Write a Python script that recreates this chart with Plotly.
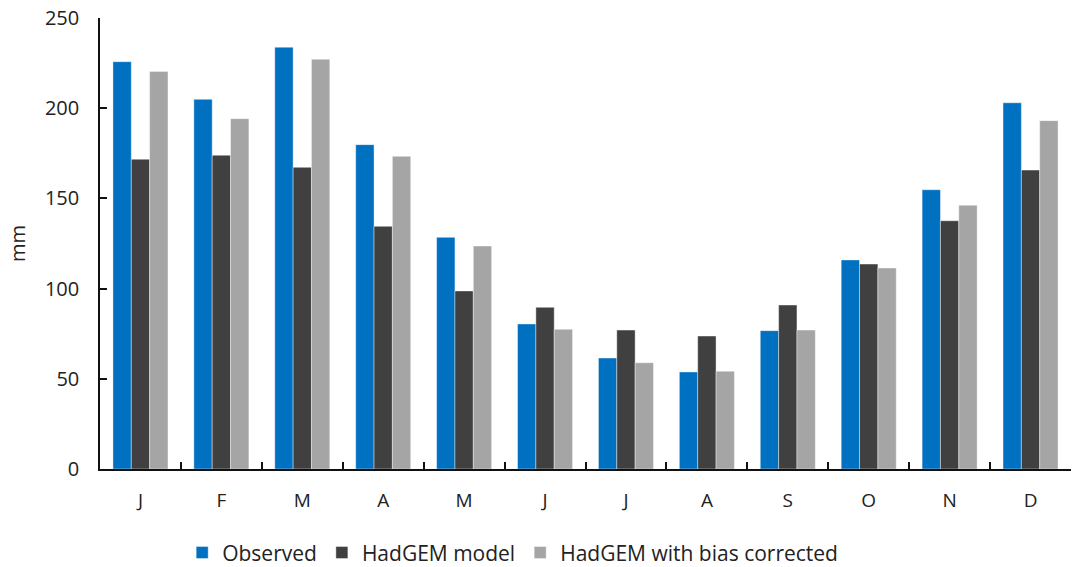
import plotly.graph_objects as go

months = ["J", "F", "M", "A", "M", "J", "J", "A", "S", "O", "N", "D"]
observed = [225.8, 204.9, 233.8, 179.8, 128.4, 80.4, 61.5, 53.8, 76.7, 115.9, 154.8, 203.0]
hadgem_model = [171.7, 173.9, 167.2, 134.5, 98.7, 89.6, 77.0, 73.7, 90.9, 113.6, 137.6, 165.7]
hadgem_corrected = [220.4, 194.2, 227.1, 173.3, 123.6, 77.4, 58.9, 54.2, 77.0, 111.4, 146.2, 193.1]
y_ticks = [0, 50, 100, 150, 200, 250]

x_idx = list(range(len(months)))

FONT = "Open Sans"
TXT = "#222222"
fig = go.Figure()
series = [
    ("Observed", observed, "#0070C0"),
    ("HadGEM model", hadgem_model, "#404040"),
    ("HadGEM with bias corrected", hadgem_corrected, "#A5A5A5"),
]
for name, vals, col in series:
    fig.add_trace(go.Bar(
        x=x_idx, y=vals, name=name,
        marker=dict(color=col, line=dict(color="rgba(255,255,255,0.5)", width=0.8)),
    ))

fig.update_layout(
    width=1072, height=567,
    margin=dict(l=100, r=1, t=18, b=98, autoexpand=False),
    paper_bgcolor="white", plot_bgcolor="white",
    barmode="group", bargap=0.32, bargroupgap=0,
    font=dict(family=FONT, size=20, color=TXT),
    showlegend=True,
    legend=dict(orientation="h", x=0.425, xanchor="center", y=-0.186, yanchor="middle",
                font=dict(family=FONT, size=21, color=TXT),
                traceorder="normal"),
)
fig.update_xaxes(
    type="linear",
    tickmode="array", tickvals=x_idx, ticktext=months,
    range=[-0.5, 11.5],
    tickfont=dict(family=FONT, size=19, color=TXT),
    showline=True, linecolor="#111111", linewidth=1.5,
    ticks="", showgrid=False, zeroline=False,
    ticklabelstandoff=13,
    minor=dict(tickmode="array", tickvals=[i + 0.5 for i in x_idx[:-1]],
               ticks="inside", ticklen=7, tickwidth=1.5, tickcolor="#111111", showgrid=False),
)
fig.update_yaxes(
    range=[0, 250], tickmode="array", tickvals=y_ticks,
    tickfont=dict(family=FONT, size=20, color=TXT),
    showline=True, linecolor="#111111", linewidth=1.5,
    ticks="inside", ticklen=7, tickwidth=1.5, tickcolor="#111111",
    showgrid=False, zeroline=False,
    ticklabelstandoff=15,
    title=dict(text="mm", standoff=14, font=dict(family=FONT, size=20, color=TXT)),
)

fig.write_html("out.html", config={"displayModeBar": False},
               post_script="document.body.style.margin='0';")
